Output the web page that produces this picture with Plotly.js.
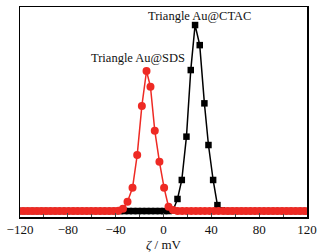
<!DOCTYPE html>
<html>
<head>
<meta charset="utf-8">
<script src="https://cdn.plot.ly/plotly-3.0.1.min.js"></script>
<style>html,body{margin:0;padding:0;background:#fff;}#chart{width:322px;height:252px;}</style>
</head>
<body>
<div id="chart"></div>
<script>
// Zeta potential distributions (relative intensity, arbitrary units)
var sdsX = [-121.3, -117.5, -113.7, -109.9, -106.1, -102.3, -98.5, -94.7, -90.9, -87.1, -83.3, -79.5, -75.7, -71.9, -68.1, -64.3, -60.5, -56.7, -52.9, -49.1, -45.3, -41.5, -37.7, -33.9,
  -30.1, -25.9, -22.0, -18.1, -14.2, -10.9, -7.3, -3.4, 0.5, 4.2,
  8.0, 11.8, 15.6, 19.4, 23.2, 27.0, 30.8, 34.6, 38.4, 42.2, 46.0, 49.8, 53.6, 57.4, 61.2, 65.0, 68.8, 72.6, 76.4, 80.2, 84.0, 87.8, 91.6, 95.4, 99.2, 103.0, 106.8, 110.6, 114.4, 118.2, 122.0];
var sdsY = [0, 0, 0, 0, 0, 0, 0, 0, 0, 0, 0, 0, 0, 0, 0, 0, 0, 0, 0, 0, 0, 0, 0.2, 1.2,
  5.0, 12.5, 30.1, 56.5, 75.3, 66.8, 43.2, 26.5, 12.5, 2.3,
  0.6, 0, 0, 0, 0, 0, 0, 0, 0, 0, 0, 0, 0, 0, 0, 0, 0, 0, 0, 0, 0, 0, 0, 0, 0, 0, 0, 0, 0, 0, 0];

var ctacX = [-121.5, -117.8, -114.1, -110.4, -106.7, -103.0, -99.3, -95.6, -91.9, -88.2, -84.5, -80.8, -77.1, -73.4, -69.7, -66.0, -62.3, -58.6, -54.9, -51.2, -47.5, -43.8, -40.1, -36.4, -32.7, -29.0, -25.3, -21.6, -17.9, -14.2, -10.5, -6.8, -3.1, 0.6, 4.3, 8.0,
  11.7, 15.3, 19.2, 22.8, 26.4, 30.3, 34.2, 37.6, 41.5, 45.1,
  48.8, 52.5, 56.2, 59.9, 63.6, 67.3, 71.0, 74.7, 78.4, 82.1, 85.8, 89.5, 93.2, 96.9, 100.6, 104.3, 108.0, 111.7, 115.4, 119.1, 122.8];
var ctacY = [0, 0, 0, 0, 0, 0, 0, 0, 0, 0, 0, 0, 0, 0, 0, 0, 0, 0, 0, 0, 0, 0, 0, 0, 0, 0, 0, 0, 0, 0, 0, 0, 0, 0, 0, 0.4,
  6.5, 16.7, 40.0, 75.8, 100, 89.2, 57.9, 35.5, 16.7, 3.2,
  0.4, 0, 0, 0, 0, 0, 0, 0, 0, 0, 0, 0, 0, 0, 0, 0, 0, 0, 0, 0, 0];

var xTicks = [-120, -80, -40, 0, 40, 80, 120];
var labels = ["Triangle Au@CTAC", "Triangle Au@SDS"];

var red = '#ee2a24';
var traces = [
  {x: ctacX, y: ctacY, type: 'scatter', mode: 'lines+markers',
   line: {color: '#000', width: 1.5}, marker: {symbol: 'square', size: 6.5, color: '#000'}},
  {x: sdsX, y: sdsY, type: 'scatter', mode: 'lines+markers',
   line: {color: red, width: 1.5}, marker: {symbol: 'circle', size: 8, color: red}}
];

var layout = {
  width: 322, height: 252,
  margin: {l: 20, r: 15, t: 7, b: 35},
  paper_bgcolor: '#fff', plot_bgcolor: '#fff',
  showlegend: false,
  font: {family: '"Liberation Serif", "DejaVu Serif", serif', size: 12.5, color: '#111'},
  xaxis: {
    range: [-120, 120], tickvals: xTicks, ticks: 'inside', ticklen: 4, tickwidth: 1,
    minor: {dtick: 20, ticks: 'inside', ticklen: 3, tickwidth: 1},
    showline: true, linecolor: '#000', linewidth: 1.5, mirror: true,
    showgrid: false, zeroline: false,
    tickfont: {size: 13},
    title: {text: '<i>ζ</i> / mV', font: {size: 13}, standoff: 2}
  },
  yaxis: {
    range: [-3.2, 109.7], showticklabels: false, ticks: '',
    showline: true, linecolor: '#000', linewidth: 1.5, mirror: true,
    showgrid: false, zeroline: false
  },
  annotations: [
    {x: 30.5, y: 105, text: labels[0], showarrow: false, xanchor: 'center', yanchor: 'middle', font: {size: 12.5}},
    {x: -21.4, y: 82.4, text: labels[1], showarrow: false, xanchor: 'center', yanchor: 'middle', font: {size: 12.5}}
  ]
};

Plotly.newPlot('chart', traces, layout, {displayModeBar: false, staticPlot: true});
</script>
</body>
</html>
